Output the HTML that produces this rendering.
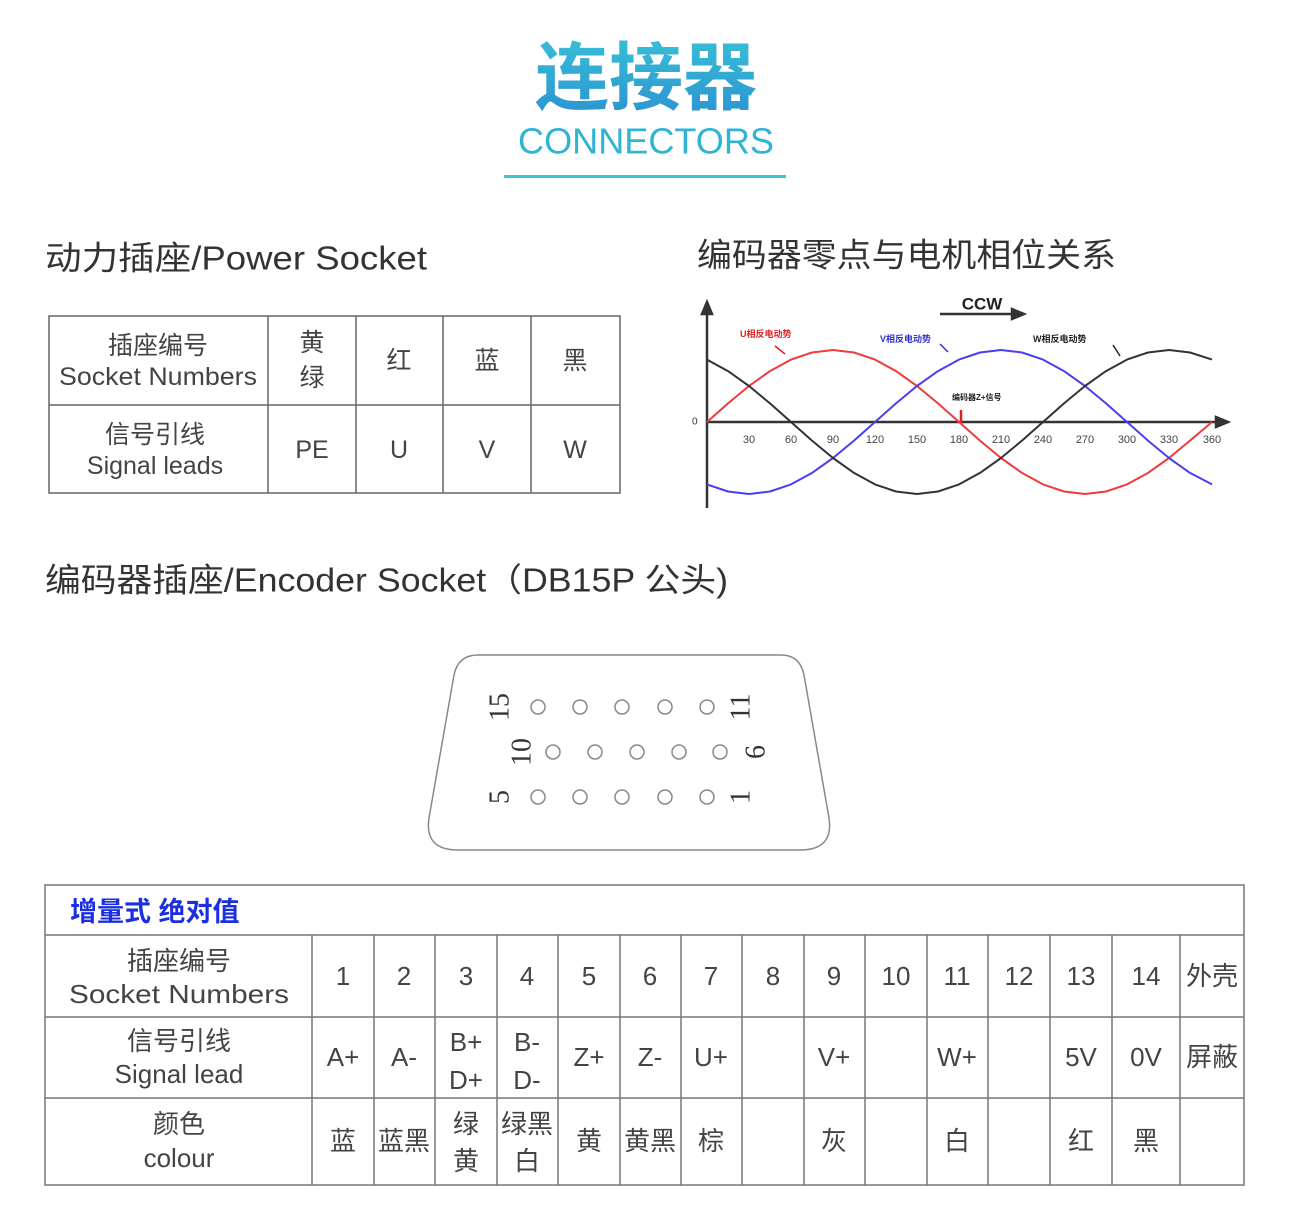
<!DOCTYPE html>
<html><head><meta charset="utf-8"><style>
html,body{margin:0;padding:0;background:#fff;}
body{width:1306px;height:1224px;overflow:hidden;}
svg{display:block;font-family:"Liberation Sans","Noto Sans CJK SC",sans-serif;}
</style></head><body>
<svg width="1306" height="1224" viewBox="0 0 1306 1224" xmlns="http://www.w3.org/2000/svg">
<defs>
<linearGradient id="tg" x1="0" y1="0" x2="0" y2="1">
<stop offset="0" stop-color="#3cc8d8"/><stop offset="1" stop-color="#2a8fd0"/>
</linearGradient>
</defs>
<text x="646" y="72" text-anchor="middle" dominant-baseline="central" font-size="74" font-weight="bold" fill="url(#tg)" font-family="Noto Sans CJK SC,sans-serif">连接器</text>
<text x="646" y="141" text-anchor="middle" dominant-baseline="central" font-size="36" fill="#2fb4d4" textLength="256" lengthAdjust="spacingAndGlyphs">CONNECTORS</text>
<rect x="504" y="175" width="282" height="3" fill="#3cc4d6"/>

<g fill="#333" font-size="33" dominant-baseline="central">
<text x="45" y="258" textLength="382" lengthAdjust="spacingAndGlyphs">动力插座/Power Socket</text>
<text x="697" y="255" textLength="419" lengthAdjust="spacingAndGlyphs">编码器零点与电机相位关系</text>
<text x="45" y="580" textLength="683" lengthAdjust="spacingAndGlyphs">编码器插座/Encoder Socket（DB15P 公头)</text>
</g>

<!-- power table -->
<g stroke="#666" stroke-width="1.5" fill="none">
<rect x="49" y="316" width="571" height="177"/>
<line x1="49" y1="405" x2="620" y2="405"/>
<line x1="268" y1="316" x2="268" y2="493"/><line x1="356" y1="316" x2="356" y2="493"/>
<line x1="443" y1="316" x2="443" y2="493"/><line x1="531" y1="316" x2="531" y2="493"/>
</g>
<g fill="#444" font-size="25" text-anchor="middle" dominant-baseline="central">
<text x="158" y="346">插座编号</text><text x="158" y="377" textLength="198" lengthAdjust="spacingAndGlyphs">Socket Numbers</text>
<text x="155" y="435">信号引线</text><text x="155" y="466">Signal leads</text>
<text x="312" y="343">黄</text><text x="312" y="378">绿</text>
<text x="399" y="361">红</text><text x="487" y="361">蓝</text><text x="575" y="361">黑</text>
<text x="312" y="450">PE</text><text x="399" y="450">U</text><text x="487" y="450">V</text><text x="575" y="450">W</text>
</g>

<!-- chart -->
<g stroke="#333" stroke-width="2.5" fill="none">
<line x1="707" y1="508" x2="707" y2="308"/>
<path d="M702,314 L707,302 L712,314 Z" fill="#333"/>
<line x1="707" y1="422" x2="1220" y2="422"/>
<path d="M1216,417 L1228,422 L1216,427 Z" fill="#333"/>
<line x1="940" y1="314" x2="1016" y2="314"/>
<path d="M1012,309 L1024,314 L1012,319 Z" fill="#333"/>
<line x1="961" y1="410" x2="961" y2="424" stroke="#e02020"/>
</g>
<text x="982" y="304" text-anchor="middle" dominant-baseline="central" font-size="17" font-weight="bold" fill="#222">CCW</text>
<text x="692" y="422" dominant-baseline="central" font-size="10" fill="#333">0</text>
<g font-size="11" fill="#444" text-anchor="middle">
<text x="749" y="443">30</text><text x="791" y="443">60</text><text x="833" y="443">90</text><text x="875" y="443">120</text><text x="917" y="443">150</text><text x="959" y="443">180</text><text x="1001" y="443">210</text><text x="1043" y="443">240</text><text x="1085" y="443">270</text><text x="1127" y="443">300</text><text x="1169" y="443">330</text><text x="1212" y="443">360</text>
</g>
<g fill="none" stroke-width="2" stroke-linejoin="round">
<polyline stroke="#ef3b3b" points="707,422 728,403.4 749,386 770,371.1 791,359.6 812,352.5 833,350 854,352.5 875,359.6 896,371.1 917,386 938,403.4 959,422 980,440.6 1001,458 1022,472.9 1043,484.4 1064,491.5 1085,494 1106,491.5 1127,484.4 1148,472.9 1169,458 1190,440.6 1212,422"/>
<polyline stroke="#4a3ef0" points="707,484.4 728,491.5 749,494 770,491.5 791,484.4 812,472.9 833,458 854,440.6 875,422 896,403.4 917,386 938,371.1 959,359.6 980,352.5 1001,350 1022,352.5 1043,359.6 1064,371.1 1085,386 1106,403.4 1127,422 1148,440.6 1169,458 1190,472.9 1212,484.4"/>
<polyline stroke="#333" points="707,359.6 728,371.1 749,386 770,403.4 791,422 812,440.6 833,458 854,472.9 875,484.4 896,491.5 917,494 938,491.5 959,484.4 980,472.9 1001,458 1022,440.6 1043,422 1064,403.4 1085,386 1106,371.1 1127,359.6 1148,352.5 1169,350 1190,352.5 1212,359.6"/>
</g>
<g font-size="9" font-weight="bold">
<text x="740" y="337" fill="#e02020">U相反电动势</text>
<text x="880" y="342" fill="#3030d0">V相反电动势</text>
<text x="1033" y="342" fill="#222">W相反电动势</text>
<text x="952" y="400" fill="#222" font-size="8">编码器Z+信号</text>
</g>
<g stroke-width="1.5"><line x1="775" y1="346" x2="785" y2="354" stroke="#e02020"/><line x1="940" y1="344" x2="948" y2="352" stroke="#3030d0"/><line x1="1113" y1="345" x2="1120" y2="356" stroke="#222"/></g>

<!-- connector -->
<path d="M478,655 L781,655 Q800,655 804,675 L829,818 Q834,850 800,850 L458,850 Q424,850 429,818 L454,675 Q458,655 478,655 Z" fill="none" stroke="#888" stroke-width="1.5"/>
<g fill="none" stroke="#888" stroke-width="1.5">
<circle cx="538" cy="707" r="7"/><circle cx="580" cy="707" r="7"/><circle cx="622" cy="707" r="7"/><circle cx="665" cy="707" r="7"/><circle cx="707" cy="707" r="7"/>
<circle cx="553" cy="752" r="7"/><circle cx="595" cy="752" r="7"/><circle cx="637" cy="752" r="7"/><circle cx="679" cy="752" r="7"/><circle cx="720" cy="752" r="7"/>
<circle cx="538" cy="797" r="7"/><circle cx="580" cy="797" r="7"/><circle cx="622" cy="797" r="7"/><circle cx="665" cy="797" r="7"/><circle cx="707" cy="797" r="7"/>
</g>
<g font-family="Liberation Serif,serif" font-size="28" fill="#333" text-anchor="middle" dominant-baseline="central">
<text transform="translate(500,707) rotate(-90)">15</text>
<text transform="translate(522,752) rotate(-90)">10</text>
<text transform="translate(500,797) rotate(-90)">5</text>
<text transform="translate(741,707) rotate(-90)">11</text>
<text transform="translate(756,752) rotate(-90)">6</text>
<text transform="translate(741,797) rotate(-90)">1</text>
</g>

<!-- encoder table -->
<g stroke="#777" stroke-width="1.5" fill="none">
<rect x="45" y="885" width="1199" height="300"/>
<line x1="45" y1="935" x2="1244" y2="935"/>
<line x1="45" y1="1017" x2="1244" y2="1017"/>
<line x1="45" y1="1098" x2="1244" y2="1098"/>
<path d="M312,935V1185M374,935V1185M435,935V1185M497,935V1185M558,935V1185M620,935V1185M681,935V1185M742,935V1185M804,935V1185M865,935V1185M927,935V1185M988,935V1185M1050,935V1185M1112,935V1185M1180,935V1185"/>
</g>
<text x="70" y="912" dominant-baseline="central" font-size="27" font-weight="bold" fill="#1c2fe0">增量式 绝对值</text>
<g fill="#444" font-size="26" text-anchor="middle" dominant-baseline="central">
<text x="179" y="961">插座编号</text><text x="179" y="994" textLength="220" lengthAdjust="spacingAndGlyphs">Socket Numbers</text>
<text x="179" y="1041">信号引线</text><text x="179" y="1074">Signal lead</text>
<text x="179" y="1124">颜色</text><text x="179" y="1158">colour</text>
<text x="343" y="976">1</text><text x="404" y="976">2</text><text x="466" y="976">3</text><text x="527" y="976">4</text><text x="589" y="976">5</text><text x="650" y="976">6</text><text x="711" y="976">7</text><text x="773" y="976">8</text><text x="834" y="976">9</text><text x="896" y="976">10</text><text x="957" y="976">11</text><text x="1019" y="976">12</text><text x="1081" y="976">13</text><text x="1146" y="976">14</text><text x="1212" y="976">外壳</text>
<text x="343" y="1057">A+</text><text x="404" y="1057">A-</text>
<text x="466" y="1042">B+</text><text x="466" y="1080">D+</text>
<text x="527" y="1042">B-</text><text x="527" y="1080">D-</text>
<text x="589" y="1057">Z+</text><text x="650" y="1057">Z-</text><text x="711" y="1057">U+</text>
<text x="834" y="1057">V+</text><text x="957" y="1057">W+</text><text x="1081" y="1057">5V</text><text x="1146" y="1057">0V</text><text x="1212" y="1057">屏蔽</text>
<text x="343" y="1141">蓝</text><text x="404" y="1141">蓝黑</text>
<text x="466" y="1124">绿</text><text x="466" y="1161">黄</text>
<text x="527" y="1124">绿黑</text><text x="527" y="1161">白</text>
<text x="589" y="1141">黄</text><text x="650" y="1141">黄黑</text><text x="711" y="1141">棕</text>
<text x="834" y="1141">灰</text><text x="957" y="1141">白</text><text x="1081" y="1141">红</text><text x="1146" y="1141">黑</text>
</g>
</svg>
</body></html>
